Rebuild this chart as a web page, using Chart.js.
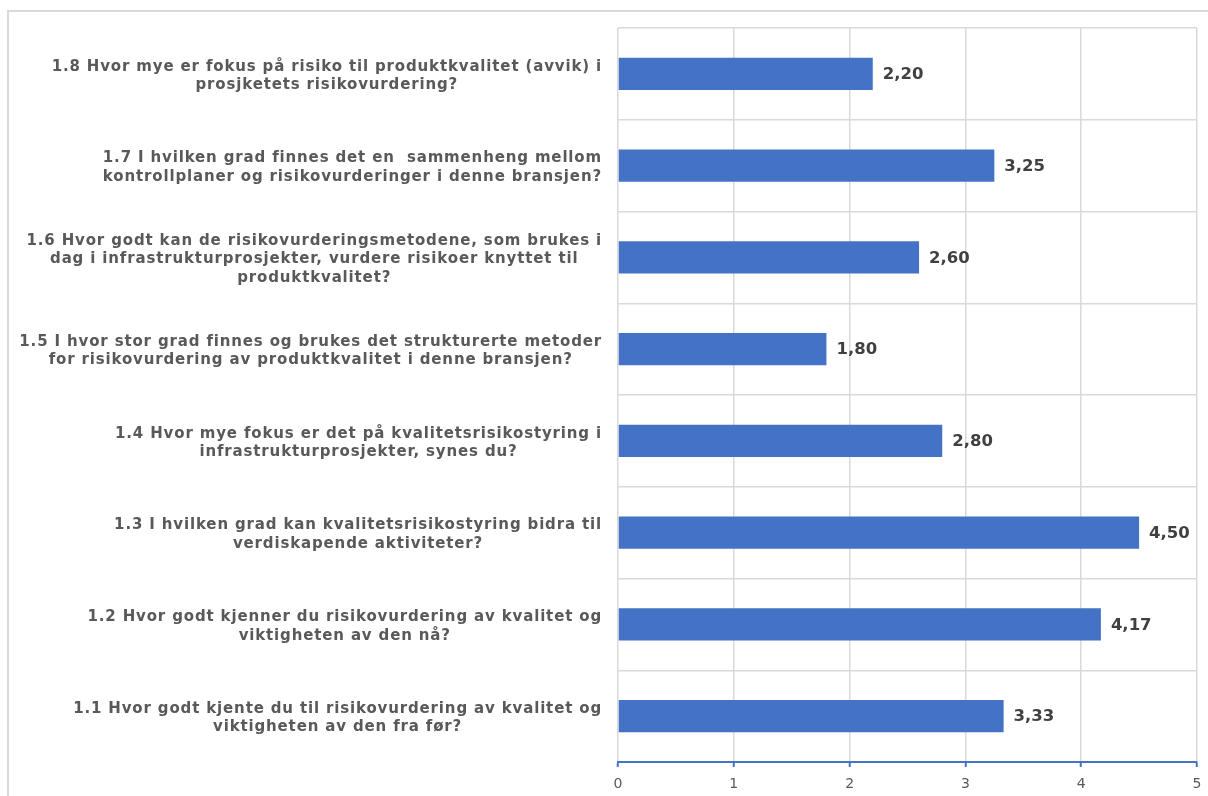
<!DOCTYPE html>
<html>
<head>
<meta charset="utf-8">
<script src="https://cdn.jsdelivr.net/npm/chart.js@4.4.1/dist/chart.umd.min.js"></script>
<style>
  html, body { margin: 0; padding: 0; background: #ffffff; overflow: hidden; }
  #wrap { position: relative; width: 1208px; height: 796px; }
  #frame { position: absolute; left: 7px; top: 10px; width: 1400px; height: 1000px;
           border-top: 2px solid #d9d9d9; border-left: 2px solid #d9d9d9; box-sizing: border-box; pointer-events: none; }
  canvas { position: absolute; left: 0; top: 0; }
</style>
</head>
<body>
<div id="wrap">
  <canvas id="c" width="1208" height="796"></canvas>
  <div id="frame"></div>
</div>
<script>
const categories = [
  ["1.8 Hvor mye er fokus på risiko til produktkvalitet (avvik) i", "prosjketets risikovurdering?"],
  ["1.7 I hvilken grad finnes det en  sammenheng mellom", "kontrollplaner og risikovurderinger i denne bransjen?"],
  ["1.6 Hvor godt kan de risikovurderingsmetodene, som brukes i", "dag i infrastrukturprosjekter, vurdere risikoer knyttet til", "produktkvalitet?"],
  ["1.5 I hvor stor grad finnes og brukes det strukturerte metoder", "for risikovurdering av produktkvalitet i denne bransjen?"],
  ["1.4 Hvor mye fokus er det på kvalitetsrisikostyring i", "infrastrukturprosjekter, synes du?"],
  ["1.3 I hvilken grad kan kvalitetsrisikostyring bidra til", "verdiskapende aktiviteter?"],
  ["1.2 Hvor godt kjenner du risikovurdering av kvalitet og", "viktigheten av den nå?"],
  ["1.1 Hvor godt kjente du til risikovurdering av kvalitet og", "viktigheten av den fra før?"]
];
const values = [2.20, 3.25, 2.60, 1.80, 2.80, 4.50, 4.17, 3.33];
const xTicks = [0, 1, 2, 3, 4, 5];

const BAR_COLOR = '#4472C4';
const GRID_COLOR = '#d9d9d9';
const LABEL_FONT = 'bold 15px "DejaVu Sans"';
const LABEL_COLOR = '#595959';

const labelPlugin = {
  id: 'labelPlugin',
  afterDraw(chart) {
    const ctx = chart.ctx;
    const yScale = chart.scales.y;
    const area = chart.chartArea;
    ctx.save();
    // category labels: block right-aligned, lines centered within block
    ctx.font = LABEL_FONT;
    if ('letterSpacing' in ctx) ctx.letterSpacing = '0.85px';
    ctx.fillStyle = LABEL_COLOR;
    ctx.textAlign = 'center';
    ctx.textBaseline = 'middle';
    const lineH = 18.5;
    const rightEdge = area.left - 16;
    categories.forEach((lines, i) => {
      const yc = yScale.getPixelForValue(i) + 2;
      let maxW = 0;
      lines.forEach(l => { maxW = Math.max(maxW, ctx.measureText(l).width); });
      const cx = rightEdge - maxW / 2;
      const y0 = yc - (lines.length - 1) * lineH / 2;
      lines.forEach((l, j) => ctx.fillText(l, cx, y0 + j * lineH));
    });
    // value labels
    if ('letterSpacing' in ctx) ctx.letterSpacing = '0px';
    ctx.font = 'bold 16.5px "DejaVu Sans"';
    ctx.fillStyle = '#404040';
    ctx.textAlign = 'left';
    const meta = chart.getDatasetMeta(0);
    meta.data.forEach((bar, i) => {
      const txt = values[i].toFixed(2).replace('.', ',');
      ctx.fillText(txt, bar.x + 10, bar.y + 1);
    });
    ctx.restore();
  }
};

new Chart(document.getElementById('c'), {
  type: 'bar',
  data: {
    labels: categories,
    datasets: [{
      data: values,
      backgroundColor: BAR_COLOR,
      borderWidth: 0,
      categoryPercentage: 1.0,
      barPercentage: 0.35
    }]
  },
  options: {
    indexAxis: 'y',
    responsive: false,
    animation: false,
    devicePixelRatio: 1,
    layout: { padding: { top: 28, right: 11, left: 0, bottom: 0 } },
    plugins: { legend: { display: false }, tooltip: { enabled: false } },
    scales: {
      x: {
        type: 'linear',
        min: 0, max: 5,
        afterBuildTicks(scale) { scale.ticks = xTicks.map(v => ({ value: v })); },
        afterFit(scale) { scale.height = 34; scale.paddingRight = 0; scale.paddingLeft = 0; },
        border: { display: true, color: BAR_COLOR, width: 2 },
        grid: { color: GRID_COLOR, lineWidth: 1.5, tickColor: BAR_COLOR, tickLength: 5, tickWidth: 2, drawTicks: true },
        ticks: { color: '#595959', font: { family: 'DejaVu Sans', size: 14 }, padding: 9 }
      },
      y: {
        type: 'category',
        offset: true,
        afterFit(scale) { scale.width = 618; },
        border: { display: false },
        grid: { color: GRID_COLOR, lineWidth: 1.5, offset: true, drawTicks: false },
        ticks: { display: false }
      }
    }
  },
  plugins: [labelPlugin]
});
</script>
</body>
</html>
